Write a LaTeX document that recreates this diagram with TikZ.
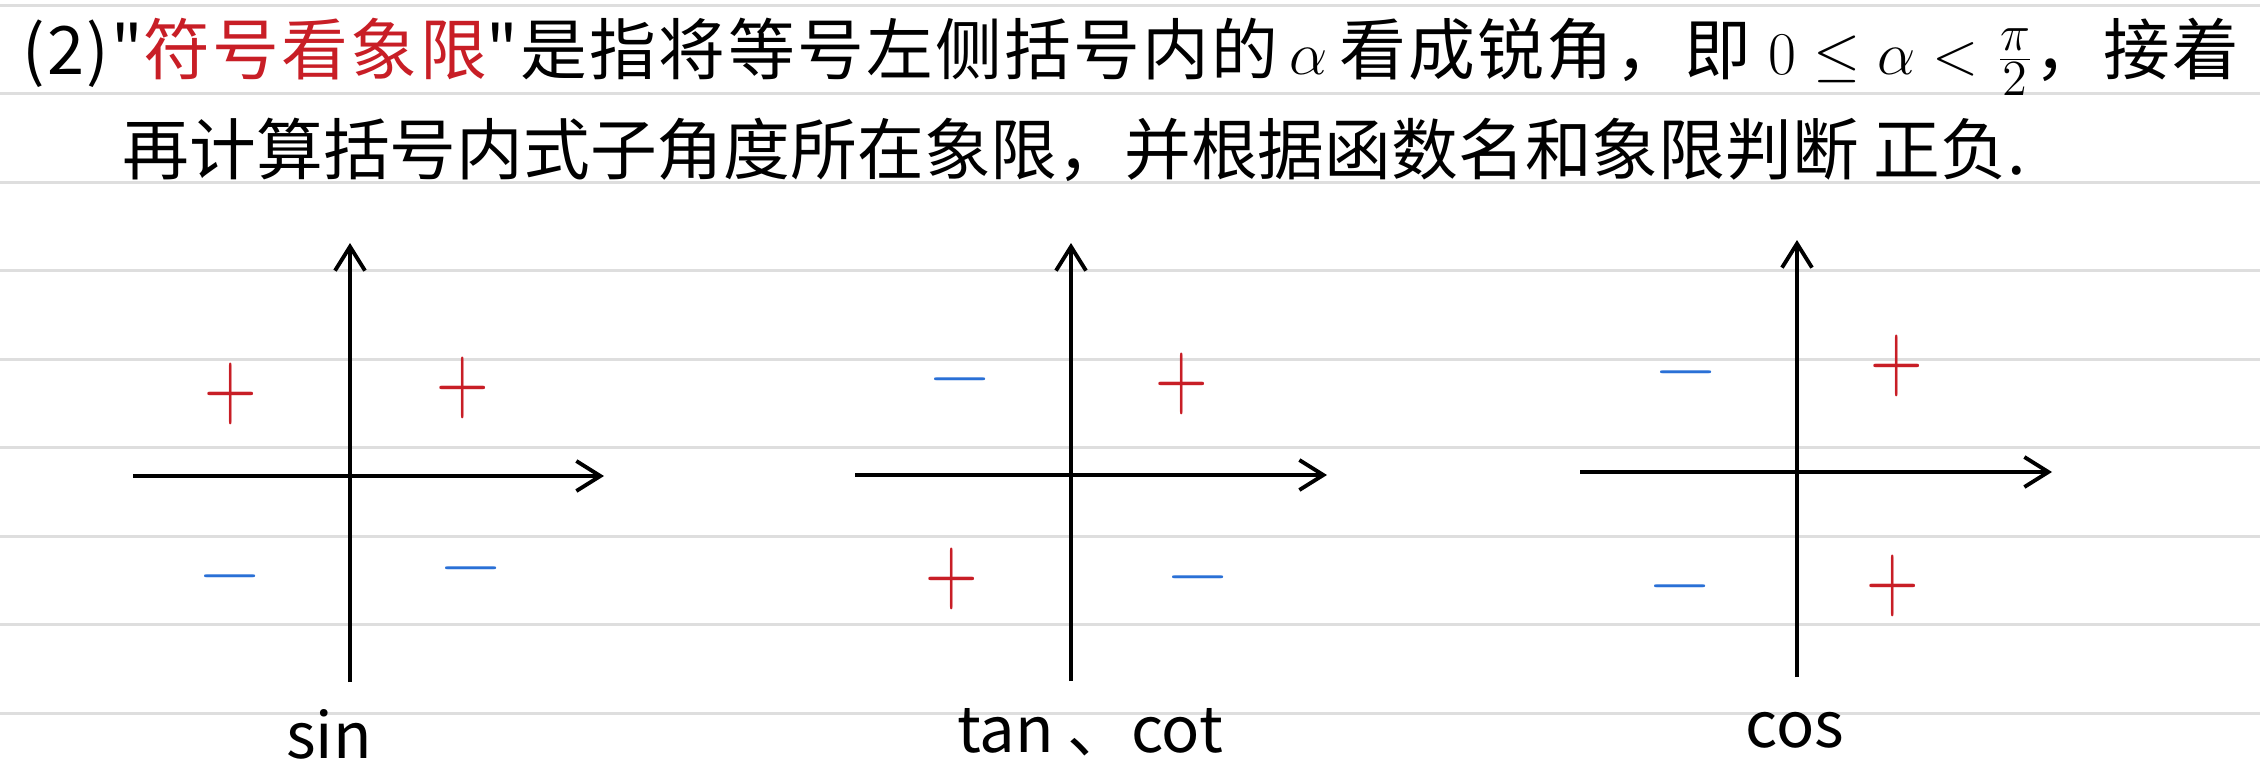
\documentclass[tikz,border=0pt]{standalone}
\usepackage{fontspec}
\usepackage{graphicx}
\newfontfamily\cjk{Noto Sans CJK SC}
\newfontfamily\cjkkuan{Noto Sans CJK SC}[LetterSpace=3.5]
\usetikzlibrary{arrows.meta}
\definecolor{hongse}{RGB}{200,30,38}
\definecolor{lanse}{RGB}{42,112,214}
\definecolor{hangxian}{RGB}{222,222,222}
\newcommand{\jia}{\scalebox{1}[1.35]{$+$}}
\newcommand{\jian}{\scalebox{1.15}[1]{$-$}}

\begin{document}
\begin{tikzpicture}[
    axis/.style={line width=1.1pt, -{Straight Barb[length=2.4mm, width=3mm]}},
    zheng/.style={text=hongse, inner sep=0pt, font=\fontsize{20pt}{20pt}\selectfont},
    fu/.style={text=lanse, inner sep=0pt, font=\fontsize{20pt}{20pt}\selectfont},
    hanshu/.style={inner sep=0pt, font=\cjk\fontsize{18pt}{20pt}\selectfont},
    hang/.style={anchor=west, inner sep=0pt, font=\cjk\fontsize{19pt}{22pt}\selectfont}
  ]
    \useasboundingbox (0,0) rectangle (22.6,7.78);

    % 横线
    \foreach \k in {0,...,8}
      \draw[hangxian, line width=0.85pt] (0,{7.73-0.885*\k}) -- (22.6,{7.73-0.885*\k});

    % 说明
    \node[hang, font=\cjkkuan\fontsize{19pt}{22pt}\selectfont] (hang1) at (0.22,7.21) {(2)"\textcolor{hongse}{符号看象限}"是指将等号左侧括号内的\,$\alpha$\,看成锐角，即 $0\le\alpha<\frac{\pi}{2}$，接着};
    \node[hang] (hang2) at (1.22,6.28) {再计算括号内式子角度所在象限，并根据函数名和象限判断 正负.};

    % sin
    \coordinate (sinL) at (1.33,3.02);
    \coordinate (sinR) at (6.04,3.02);
    \coordinate (sinB) at (3.50,0.96);
    \coordinate (sinT) at (3.50,5.35);
    \draw[axis] (sinL) -- (sinR);
    \draw[axis] (sinB) -- (sinT);
    \node[zheng] (sin1) at (4.63,3.90) {\jia};
    \node[zheng] (sin2) at (2.31,3.84) {\jia};
    \node[fu] (sin3) at (2.30,2.02) {\jian};
    \node[fu] (sin4) at (4.71,2.10) {\jian};
    \node[hanshu] (sinming) at (3.29,0.44) {sin};

    % tan、cot
    \coordinate (tanL) at (8.55,3.03);
    \coordinate (tanR) at (13.27,3.03);
    \coordinate (tanB) at (10.71,0.97);
    \coordinate (tanT) at (10.71,5.35);
    \draw[axis] (tanL) -- (tanR);
    \draw[axis] (tanB) -- (tanT);
    \node[zheng] (tan1) at (11.82,3.94) {\jia};
    \node[fu] (tan2) at (9.60,3.99) {\jian};
    \node[zheng] (tan3) at (9.52,1.99) {\jia};
    \node[fu] (tan4) at (11.98,2.01) {\jian};
    \node[hanshu] (tanming) at (10.90,0.46) {tan 、cot};

    % cos
    \coordinate (cosL) at (15.80,3.06);
    \coordinate (cosR) at (20.52,3.06);
    \coordinate (cosB) at (17.97,1.01);
    \coordinate (cosT) at (17.97,5.38);
    \draw[axis] (cosL) -- (cosR);
    \draw[axis] (cosB) -- (cosT);
    \node[zheng] (cos1) at (18.97,4.12) {\jia};
    \node[fu] (cos2) at (16.86,4.06) {\jian};
    \node[fu] (cos3) at (16.80,1.92) {\jian};
    \node[zheng] (cos4) at (18.93,1.92) {\jia};
    \node[hanshu] (cosming) at (17.95,0.48) {cos};
\end{tikzpicture}
\end{document}
